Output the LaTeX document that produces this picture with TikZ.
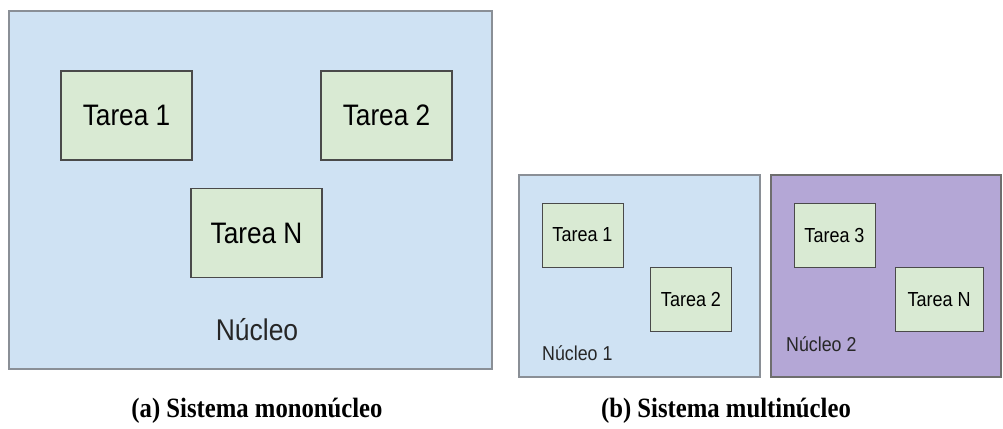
\documentclass[tikz,border=0pt]{standalone}
\usepackage{graphicx}
\usepackage{fontspec}
\setmainfont{Liberation Sans}
\newfontfamily\capfont{Liberation Serif}
\definecolor{coreblue}{HTML}{CFE2F3}
\definecolor{corepurple}{HTML}{B4A7D6}
\definecolor{taskgreen}{HTML}{D9EAD3}
\definecolor{coreedge}{HTML}{8A8F96}
\definecolor{taskedge}{HTML}{4A4A4A}
% text set slightly taller than wide
\newcommand{\tall}[1]{\scalebox{1}[1.13]{#1}}
\tikzset{
  corebox/.style={draw=coreedge, line width=1.2pt, inner sep=0pt, rectangle},
  bigtask/.style={draw=taskedge, fill=taskgreen, line width=1.2pt, inner sep=0pt,
    minimum width=131pt, minimum height=89pt, font=\fontsize{26.2}{29}\selectfont},
  smalltask/.style={draw=taskedge, fill=taskgreen, line width=1pt, inner sep=0pt,
    minimum width=81pt, minimum height=64pt, font=\fontsize{18}{20}\selectfont},
  corelabel/.style={inner sep=0pt, text=black!85},
  caption/.style={inner sep=0pt, font=\capfont\bfseries\fontsize{24.7}{27}\selectfont}
}
\begin{document}
\begin{tikzpicture}[x=1pt, y=-1pt]
  \useasboundingbox (0,0) rectangle (1003,428);
  % single-core system
  \node[corebox, fill=coreblue, minimum width=483pt, minimum height=358pt] (core) at (250.5,190) {};
  \node[bigtask] (t1) at (126.5,115.5) {\tall{Tarea 1}};
  \node[bigtask] (t2) at (386.5,115.5) {\tall{Tarea 2}};
  \node[bigtask] (tn) at (256.5,233) {\tall{Tarea N}};
  \node[corelabel, font=\fontsize{26.5}{29}\selectfont] (corename) at (257,330) {\tall{Núcleo}};
  % multi-core system
  \node[corebox, fill=coreblue, minimum width=241pt, minimum height=202pt] (core1) at (639.5,276) {};
  \node[corebox, draw=taskedge!80, fill=corepurple, minimum width=230pt, minimum height=202pt] (core2) at (886,276) {};
  \node[smalltask] (m1) at (582.5,235) {\tall{Tarea 1}};
  \node[smalltask] (m2) at (691,299.5) {\tall{Tarea 2}};
  \node[smalltask] (m3) at (834.5,235) {\tall{Tarea 3}};
  \node[smalltask, minimum width=88pt] (mn) at (939,299.5) {\tall{Tarea N}};
  \node[corelabel, anchor=west, font=\fontsize{17.8}{20}\selectfont] (core1name) at (542,353) {\tall{Núcleo 1}};
  \node[corelabel, anchor=west, font=\fontsize{17.8}{20}\selectfont] (core2name) at (786,344) {\tall{Núcleo 2}};
  % captions
  \node[caption] (capa) at (257,411) {\tall{(a) Sistema mononúcleo}};
  \node[caption] (capb) at (726,411) {\tall{(b) Sistema multinúcleo}};
\end{tikzpicture}
\end{document}
